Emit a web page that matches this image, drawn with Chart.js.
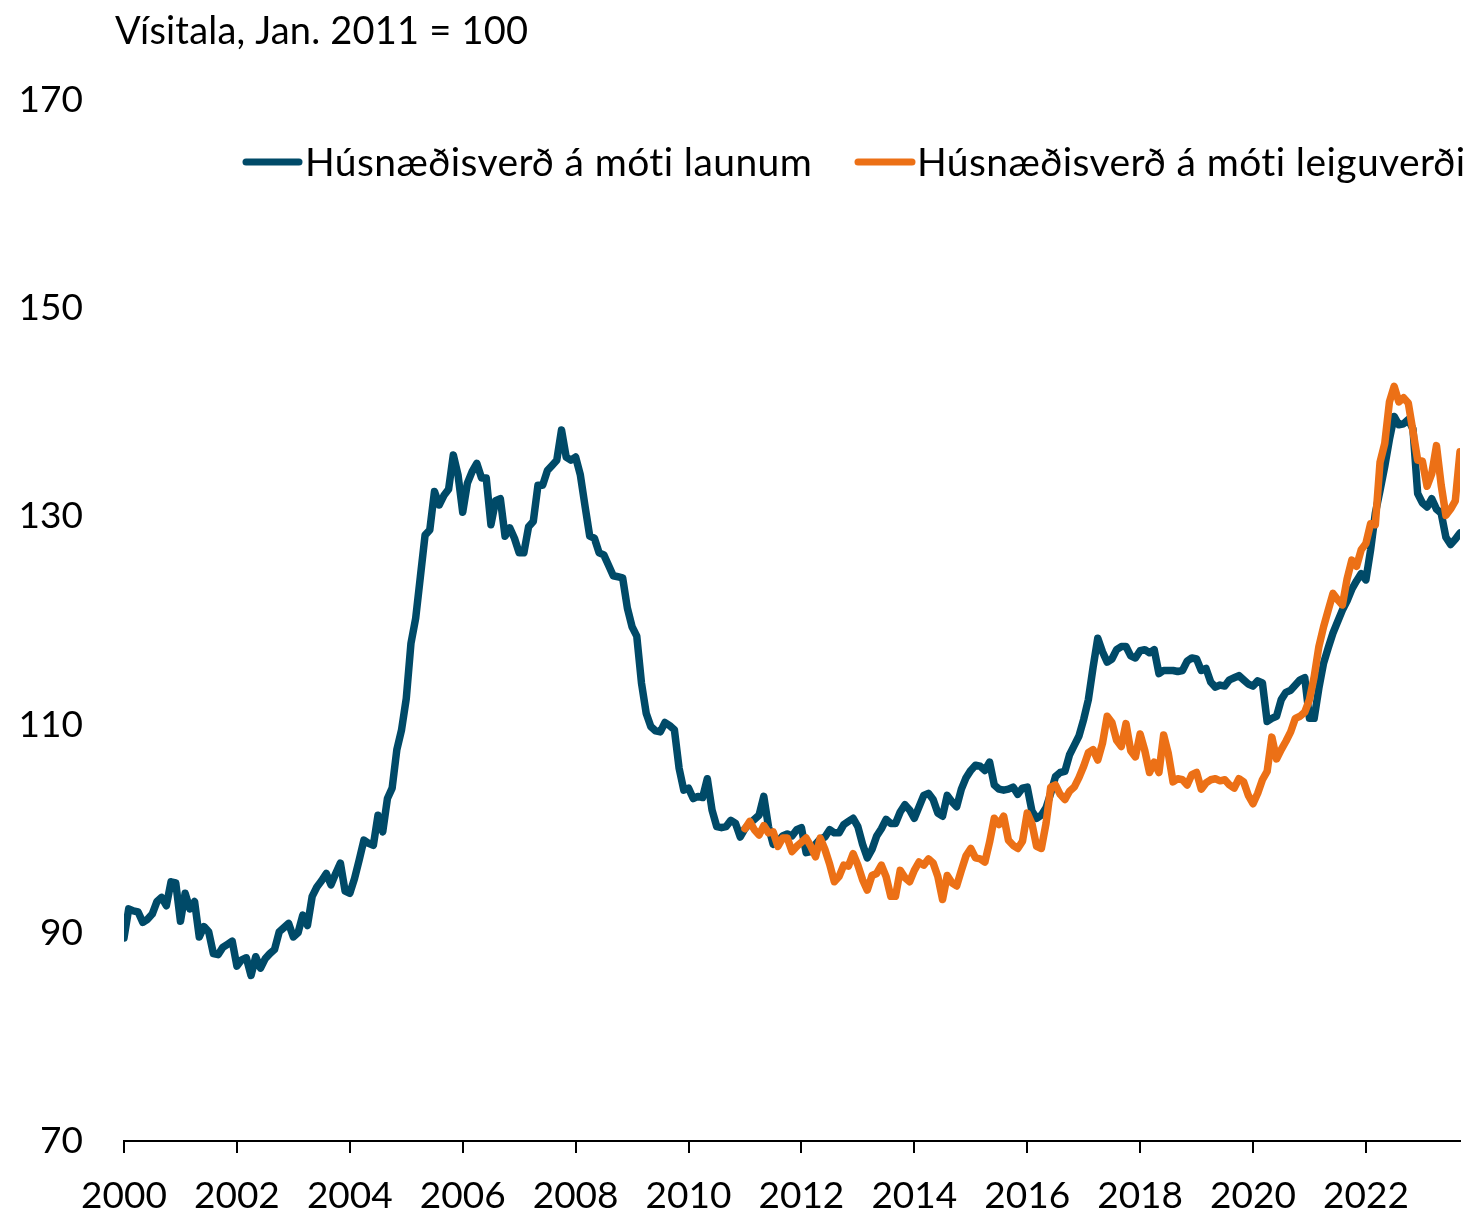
<!DOCTYPE html>
<html lang="is">
<head>
<meta charset="utf-8">
<title>Húsnæðisverð</title>
<script src="https://cdn.jsdelivr.net/npm/chart.js@4.4.1/dist/chart.umd.min.js"></script>
<style>
  html, body { margin: 0; padding: 0; background: #fff; }
  #wrap { position: relative; width: 1476px; height: 1217px; }
</style>
</head>
<body>
<div id="wrap"><canvas id="chart"></canvas></div>
<script>
// Mánaðarleg gögn, vísitala jan. 2011 = 100
var titleText = 'Vísitala, Jan. 2011 = 100';
var seriesNames = ['Húsnæðisverð á móti launum', 'Húsnæðisverð á móti leiguverði'];
var seriesColors = ['#004a68', '#ec7016'];

// Húsnæðisverð á móti launum, jan. 2000 - sep. 2023
var launumStart = 2000;
var launum = [
  89.5, 92.3, 92.1, 92.0, 91.0, 91.3, 91.8, 93.0, 93.4, 92.6, 94.9, 94.8,
  91.1, 93.8, 92.3, 93.0, 89.6, 90.6, 90.1, 88.0, 87.9, 88.6, 88.9, 89.2,
  86.8, 87.4, 87.6, 85.9, 87.7, 86.6, 87.5, 88.0, 88.4, 90.1, 90.5, 90.9,
  89.6, 90.0, 91.7, 90.7, 93.5, 94.4, 95.0, 95.7, 94.6, 95.7, 96.7, 94.0,
  93.8, 95.2, 97.0, 98.9, 98.6, 98.4, 101.3, 99.7, 102.9, 103.9, 107.6, 109.5,
  112.5, 117.8, 120.2, 124.2, 128.2, 128.7, 132.4, 131.1, 132.0, 132.6, 135.9, 134.0,
  130.4, 133.2, 134.3, 135.1, 133.7, 133.7, 129.2, 131.5, 131.7, 128.1, 128.9, 127.9,
  126.5, 126.5, 129.0, 129.5, 133.0, 133.0, 134.4, 134.9, 135.4, 138.3, 135.7, 135.4,
  135.7, 134.0, 131.0, 128.1, 127.9, 126.5, 126.3, 125.3, 124.3, 124.2, 124.1, 121.2,
  119.4, 118.5, 114.0, 111.1, 109.8, 109.4, 109.3, 110.2, 109.9, 109.5, 105.8, 103.7,
  103.9, 102.9, 103.1, 103.0, 104.8, 101.8, 100.2, 100.1, 100.2, 100.8, 100.5, 99.2,
  100.0, 100.5, 100.9, 101.3, 103.1, 100.2, 98.5, 98.8, 99.3, 99.5, 99.3, 99.9,
  100.1, 97.7, 97.8, 98.5, 99.0, 99.2, 99.9, 99.6, 99.6, 100.4, 100.7, 101.0,
  100.2, 98.5, 97.2, 98.0, 99.3, 100.0, 100.9, 100.5, 100.5, 101.6, 102.3, 101.8,
  101.0, 102.1, 103.2, 103.4, 102.8, 101.5, 101.2, 103.2, 102.6, 102.1, 103.8, 104.9,
  105.6, 106.1, 106.0, 105.6, 106.4, 104.2, 103.8, 103.7, 103.8, 104.0, 103.3, 103.9,
  104.0, 101.7, 101.0, 101.3, 102.0, 103.4, 105.0, 105.4, 105.5, 107.1, 108.0, 108.9,
  110.5, 112.4, 115.5, 118.3, 117.0, 116.0, 116.3, 117.2, 117.5, 117.5, 116.6, 116.4,
  117.1, 117.2, 116.9, 117.2, 114.9, 115.2, 115.2, 115.2, 115.1, 115.2, 116.1, 116.4,
  116.3, 115.2, 115.4, 114.1, 113.6, 113.8, 113.7, 114.3, 114.5, 114.7, 114.3, 113.9,
  113.7, 114.2, 114.0, 110.3, 110.6, 110.8, 112.4, 113.1, 113.3, 113.8, 114.3, 114.5,
  110.6, 110.6, 113.5, 115.9, 117.4, 118.8, 119.9, 121.0, 121.9, 123.0, 123.8, 124.5,
  123.9, 126.8, 130.3, 132.5, 134.8, 137.4, 139.6, 138.8, 138.9, 139.3, 138.4, 132.2,
  131.3, 130.9, 131.7, 130.7, 130.3, 128.0, 127.3, 127.8, 128.4
];

// Húsnæðisverð á móti leiguverði, jan. 2011 - sep. 2023
var leiguStart = 2011;
var leigu = [
  100.0, 100.7, 99.9, 99.4, 100.3, 99.6, 99.7, 98.3, 99.1, 99.1, 97.8, 98.3,
  98.7, 99.1, 98.3, 97.3, 99.1, 98.0, 96.6, 94.9, 95.4, 96.5, 96.4, 97.6,
  96.5, 95.1, 94.1, 95.5, 95.7, 96.5, 95.4, 93.5, 93.5, 96.0, 95.3, 94.9,
  96.0, 96.8, 96.5, 97.1, 96.7, 95.4, 93.2, 95.5, 94.8, 94.5, 96.0, 97.4,
  98.1, 97.2, 97.1, 96.8, 98.7, 101.0, 100.4, 101.2, 98.9, 98.4, 98.1, 98.8,
  101.5, 100.5, 98.3, 98.1, 100.5, 104.0, 104.2, 103.3, 102.8, 103.6, 104.0, 104.9,
  106.0, 107.3, 107.6, 106.6, 108.2, 110.8, 110.2, 108.5, 107.9, 110.1, 107.5, 106.9,
  109.1, 107.5, 105.4, 106.4, 105.4, 109.0, 107.2, 104.5, 104.8, 104.7, 104.2, 105.2,
  105.4, 103.8, 104.4, 104.7, 104.8, 104.6, 104.7, 104.2, 103.9, 104.8, 104.5, 103.2,
  102.4, 103.4, 104.7, 105.5, 108.8, 106.7, 107.6, 108.4, 109.3, 110.6, 110.8, 111.2,
  112.4, 114.6, 117.5, 119.4, 121.0, 122.6, 122.0, 121.5, 124.0, 125.8, 125.2, 126.8,
  127.4, 129.3, 129.2, 135.2, 137.0, 141.0, 142.5, 141.0, 141.4, 140.9, 138.2, 135.4,
  135.3, 132.9, 134.1, 136.8, 133.0, 130.1, 130.7, 131.5, 136.2
];

var xTickYears = [2000, 2002, 2004, 2006, 2008, 2010, 2012, 2014, 2016, 2018, 2020, 2022];
var yTicks = [70, 90, 110, 130, 150, 170];

var fontFamily = 'Lato, "Open Sans", sans-serif';
var tickSize = 37;
var titleSize = 38;
var legendSize = 39;

function toPoints(start, values) {
  return values.map(function (v, i) { return { x: start + i / 12, y: v }; });
}

var xMax = launumStart + (launum.length - 1) / 12;

// titill og skýringar teiknað beint á strigann
var decorPlugin = {
  id: 'decor',
  afterDraw: function (chart) {
    var ctx = chart.ctx;
    ctx.save();
    ctx.fillStyle = '#000';
    ctx.textBaseline = 'middle';
    ctx.textAlign = 'left';
    ctx.font = titleSize + 'px ' + fontFamily;
    ctx.letterSpacing = '0.2px';
    ctx.fillText(titleText, 115, 32);

    ctx.font = legendSize + 'px ' + fontFamily;
    ctx.letterSpacing = '0.4px';
    var items = [{ x0: 246, x1: 299, tx: 305 }, { x0: 858, x1: 912, tx: 917 }];
    var y = 162;
    chart.data.datasets.forEach(function (ds) {
      var it = items[ds.legendIndex];
      ctx.strokeStyle = ds.borderColor;
      ctx.lineWidth = 7;
      ctx.lineCap = 'round';
      ctx.beginPath();
      ctx.moveTo(it.x0, y);
      ctx.lineTo(it.x1, y);
      ctx.stroke();
      ctx.fillText(ds.label, it.tx, y + 1);
    });
    ctx.restore();
  }
};

new Chart(document.getElementById('chart'), {
  type: 'line',
  data: {
    datasets: [
      {
        label: seriesNames[0],
        legendIndex: 0,
        data: toPoints(launumStart, launum),
        borderColor: seriesColors[0],
        borderWidth: 7.5,
        pointRadius: 0,
        tension: 0,
        borderJoinStyle: 'round',
        borderCapStyle: 'round',
        order: 1
      },
      {
        label: seriesNames[1],
        legendIndex: 1,
        data: toPoints(leiguStart, leigu),
        borderColor: seriesColors[1],
        borderWidth: 7.5,
        pointRadius: 0,
        tension: 0,
        borderJoinStyle: 'round',
        borderCapStyle: 'round',
        order: 0
      }
    ]
  },
  options: {
    responsive: true,
    maintainAspectRatio: false,
    animation: false,
    layout: { padding: { top: 100, right: 16, bottom: 0, left: 0 } },
    plugins: {
      legend: { display: false },
      title: { display: false },
      tooltip: { enabled: false }
    },
    scales: {
      x: {
        type: 'linear',
        min: launumStart,
        max: xMax,
        afterBuildTicks: function (s) {
          s.ticks = xTickYears.map(function (v) { return { value: v }; });
        },
        afterFit: function (s) { s.height = 76; },
        ticks: {
          autoSkip: false,
          maxRotation: 0,
          padding: 21,
          color: '#000',
          font: { family: fontFamily, size: tickSize },
          callback: function (v) { return String(v); }
        },
        grid: {
          display: true,
          drawOnChartArea: false,
          drawTicks: true,
          tickLength: 12,
          color: '#000',
          lineWidth: 2
        },
        border: { display: true, color: '#000', width: 2 }
      },
      y: {
        type: 'linear',
        min: 70,
        max: 170,
        afterBuildTicks: function (s) {
          s.ticks = yTicks.map(function (v) { return { value: v }; });
        },
        afterFit: function (s) { s.width = 124; },
        ticks: {
          padding: 41,
          color: '#000',
          font: { family: fontFamily, size: tickSize },
          callback: function (v) { return String(v); }
        },
        grid: { display: false, drawTicks: false },
        border: { display: false }
      }
    }
  },
  plugins: [decorPlugin]
});
</script>
</body>
</html>
